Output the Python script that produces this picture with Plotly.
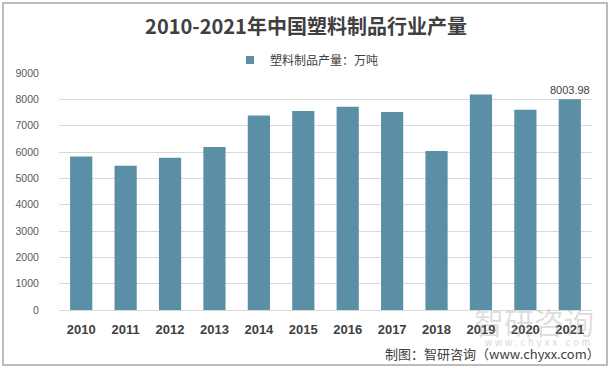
import plotly.graph_objects as go

years = ["2010", "2011", "2012", "2013", "2014", "2015", "2016", "2017", "2018", "2019", "2020", "2021"]
output = [5830.38, 5474.31, 5781.86, 6188.62, 7387.78, 7560.83, 7717.2, 7515.5, 6042.1, 8184.2, 7603.2, 8003.98]
series_name = "塑料制品产量：万吨"
title = "2010-2021年中国塑料制品行业产量"
source = "制图：智研咨询（www.chyxx.com）"
y_ticks = [0, 1000, 2000, 3000, 4000, 5000, 6000, 7000, 8000, 9000]

labels = [""] * (len(output) - 1) + [f"{output[-1]:.2f}"]

font_cn = "Microsoft YaHei, Noto Sans CJK SC, sans-serif"
bar_color = "#5B8FA6"

L, R, T, B = 59, 20, 73, 58
W = 612 - L - R
H = 368 - T - B

fig = go.Figure()
fig.add_trace(go.Bar(
    x=years, y=output, name=series_name,
    marker=dict(color=bar_color, line=dict(width=0)),
    text=labels, textposition="outside", cliponaxis=False, constraintext="none",
    textfont=dict(size=11, color="#404040", family="Liberation Sans, Arial, sans-serif"),
    showlegend=False, hoverinfo="x+y",
))
# legend entry (small square swatch like the reference)
fig.add_trace(go.Scatter(
    x=[None], y=[None], mode="markers", name=series_name,
    marker=dict(symbol="square", size=8, color=bar_color), showlegend=True,
))

fig.update_layout(
    width=612, height=368,
    margin=dict(l=L, r=R, t=T, b=B, autoexpand=False),
    paper_bgcolor="white", plot_bgcolor="white",
    bargap=0.5,
    title=dict(text=title, x=0.5, xanchor="center", y=1 - 27 / 368, yanchor="middle",
               font=dict(size=20, color="#404040", family=font_cn, weight="bold")),
    legend=dict(orientation="h", x=(230 - L) / W, xanchor="left", y=1 + (T - 60) / H, yanchor="middle",
                font=dict(size=12, color="#404040", family=font_cn)),
    xaxis=dict(type="category", showline=True, linecolor="#D9D9D9", linewidth=1,
               tickfont=dict(size=13, color="#404040", family="Liberation Sans, Arial, sans-serif", weight="bold"),
               ticks="outside", ticklen=7, tickcolor="rgba(0,0,0,0)"),
    yaxis=dict(range=[0, 9000], tickvals=y_ticks, showgrid=True, gridcolor="#D9D9D9",
               zeroline=False, showline=False, ticks="outside", ticklen=17, tickcolor="rgba(0,0,0,0)",
               tickfont=dict(size=10.5, color="#595959", family="Liberation Sans, Arial, sans-serif")),
    shapes=[dict(type="rect", xref="paper", yref="paper",
                 x0=(3 - L) / W, x1=(607 - L) / W, y0=-(365 - (T + H)) / H, y1=1 + (T - 3) / H,
                 line=dict(color="#A6A6A6", width=1.5))],
)

# faint watermark (logo text) behind the bottom-right labels
fig.add_annotation(text="智研咨询", xref="paper", yref="paper", x=(596 - L) / W, y=-(321 - (T + H)) / H,
                   xanchor="right", yanchor="middle", showarrow=False,
                   font=dict(size=30, color="rgba(160,160,160,0.35)", family=font_cn))
fig.add_annotation(text="w w w . c h y x x . c o m", xref="paper", yref="paper", x=(592 - L) / W,
                   y=-(342 - (T + H)) / H,
                   xanchor="right", yanchor="middle", showarrow=False,
                   font=dict(size=10, color="rgba(160,160,160,0.45)", family="Liberation Sans, Arial"))
fig.add_annotation(text=source, xref="paper", yref="paper", x=(602 - L) / W, y=-(353 - (T + H)) / H,
                   xanchor="right", yanchor="middle", showarrow=False,
                   font=dict(size=13, color="#404040", family=font_cn))

fig.write_html("out.html", config={"displayModeBar": False},
               post_script="document.body.style.margin='0';document.body.style.overflow='hidden';")
